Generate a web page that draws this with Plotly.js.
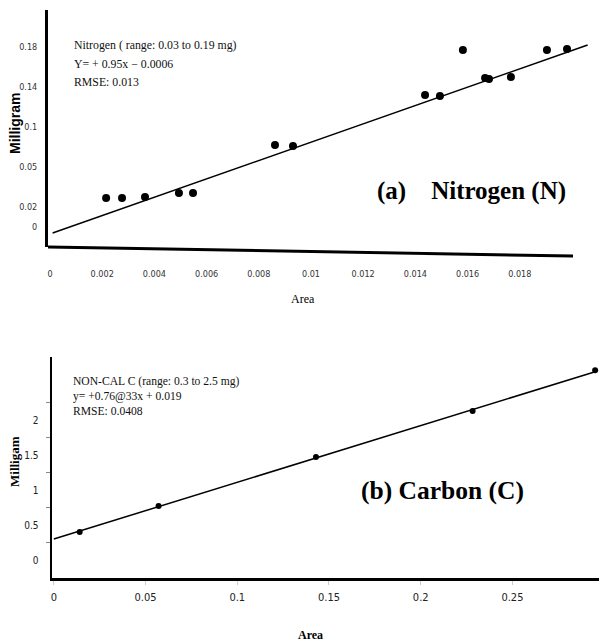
<!DOCTYPE html>
<html><head><meta charset="utf-8">
<script src="https://cdn.plot.ly/plotly-3.0.1.min.js"></script>
<style>html,body{margin:0;padding:0;background:#fff}</style>
</head><body><div id="chart" style="width:599px;height:641px"></div>
<script>
// ---- (a) Nitrogen ----
const nArea = [0.00215, 0.00276, 0.00364, 0.00494, 0.00548, 0.00862, 0.00931, 0.01437, 0.01494, 0.01582, 0.01667, 0.01682, 0.01766, 0.01904, 0.01981];
const nMg   = [0.029, 0.029, 0.030, 0.034, 0.034, 0.082, 0.081, 0.132, 0.131, 0.177, 0.149, 0.148, 0.150, 0.177, 0.178];
const nFitArea = [0.0001, 0.0206];
const nFitMg   = [-0.006, 0.182];
const nXTickVals = [0, 0.002, 0.004, 0.006, 0.008, 0.01, 0.012, 0.014, 0.016, 0.018];
const nXTickText = ['0', '0.002', '0.004', '0.006', '0.008', '0.01', '0.012', '0.014', '0.016', '0.018'];
const nYTickVals = [0, 0.02, 0.06, 0.1, 0.14, 0.18];
const nYTickText = ['0', '0.02', '0.05', '0.1', '0.14', '0.18'];
const nText = ['Nitrogen ( range: 0.03 to 0.19 mg)', 'Y= + 0.95x \u2212 0.0006', 'RMSE: 0.013'];
const nLabel = '(a)\u00a0\u00a0\u00a0\u00a0Nitrogen (N)';

// ---- (b) Carbon ----
const cArea = [0.0141, 0.0571, 0.1429, 0.2283, 0.2951];
const cMg   = [0.40, 0.77, 1.47, 2.13, 2.71];
const cFitArea = [0, 0.2951];
const cFitMg   = [0.30, 2.69];
const cXTickVals = [0, 0.05, 0.1, 0.15, 0.2, 0.25];
const cXTickText = ['0', '0.05', '0.1', '0.15', '0.2', '0.25'];
const cYTickVals = [0, 0.5, 1, 1.5, 2];
const cYTickText = ['0', '0.5', '1', '1.5', '2'];
const cYMinor = [0.25, 0.75, 1.25, 1.75, 2.25];
const cText = ['NON-CAL C (range: 0.3 to 2.5 mg)', 'y= +0.76@33x + 0.019', 'RMSE: 0.0408'];
const cLabel = '(b) Carbon (C)';

const W = 599, H = 641;
const px = x => x / W;
const py = y => 1 - y / H;

const serif = 'Liberation Serif, Times New Roman, serif';
const narrow = 'DejaVu Sans Condensed, DejaVu Sans, sans-serif';

const traces = [
  {x: nFitArea, y: nFitMg, mode: 'lines', line: {color: '#000', width: 1.5}, xaxis: 'x', yaxis: 'y', hoverinfo: 'skip'},
  {x: nArea, y: nMg, mode: 'markers', marker: {color: '#000', size: 8}, xaxis: 'x', yaxis: 'y'},
  {x: cFitArea, y: cFitMg, mode: 'lines', line: {color: '#000', width: 1.5}, xaxis: 'x2', yaxis: 'y2', hoverinfo: 'skip'},
  {x: cArea, y: cMg, mode: 'markers', marker: {color: '#000', size: 6}, xaxis: 'x2', yaxis: 'y2', cliponaxis: false}
];

const annotations = [];
nText.forEach((t, i) => annotations.push({
  text: t, xref: 'paper', yref: 'paper', x: px(72), y: py(45 + i * 18.5),
  xanchor: 'left', yanchor: 'middle', showarrow: false,
  font: {family: serif, size: 11.8, color: '#111'}
}));
cText.forEach((t, i) => annotations.push({
  text: t, xref: 'paper', yref: 'paper', x: px(71), y: py(381 + i * 15),
  xanchor: 'left', yanchor: 'middle', showarrow: false,
  font: {family: serif, size: 11.6, color: '#111'}
}));
annotations.push({text: nLabel, xref: 'paper', yref: 'paper', x: px(471), y: py(191),
  xanchor: 'center', yanchor: 'middle', showarrow: false,
  font: {family: serif, size: 25, color: '#000', weight: 'bold'}});
annotations.push({text: cLabel, xref: 'paper', yref: 'paper', x: px(442), y: py(490),
  xanchor: 'center', yanchor: 'middle', showarrow: false,
  font: {family: serif, size: 25.5, color: '#000', weight: 'bold'}});
annotations.push({text: 'Milligram', xref: 'paper', yref: 'paper', x: px(15), y: py(124),
  textangle: -90, xanchor: 'center', yanchor: 'middle', showarrow: false,
  font: {family: 'Liberation Sans, Arial, sans-serif', size: 14, color: '#000', weight: 'bold'}});
annotations.push({text: 'Milligam', xref: 'paper', yref: 'paper', x: px(14), y: py(462),
  textangle: -90, xanchor: 'center', yanchor: 'middle', showarrow: false,
  font: {family: serif, size: 13, color: '#000', weight: 'bold'}});
annotations.push({text: 'Area', xref: 'paper', yref: 'paper', x: px(303), y: py(299),
  xanchor: 'center', yanchor: 'middle', showarrow: false,
  font: {family: serif, size: 12, color: '#000'}});
annotations.push({text: 'Area', xref: 'paper', yref: 'paper', x: px(310), y: py(635),
  xanchor: 'center', yanchor: 'middle', showarrow: false,
  font: {family: serif, size: 12, color: '#000', weight: 'bold'}});

const layout = {
  width: W, height: H,
  margin: {l: 0, r: 0, t: 0, b: 0},
  paper_bgcolor: '#fff', plot_bgcolor: '#fff',
  showlegend: false,
  xaxis: {
    domain: [px(48), px(590)], range: [-0.0000766, 0.02069], anchor: 'y',
    showline: false, showgrid: false, zeroline: false, ticks: '',
    tickmode: 'array', tickvals: nXTickVals, ticktext: nXTickText,
    tickfont: {family: narrow, size: 9, color: '#333'}, ticklabelstandoff: 20
  },
  yaxis: {
    domain: [py(247), py(10)], range: [-0.020, 0.217], anchor: 'x',
    showline: true, linewidth: 3, linecolor: '#000', showgrid: false, zeroline: false, ticks: '',
    tickmode: 'array', tickvals: nYTickVals, ticktext: nYTickText,
    tickfont: {family: narrow, size: 9, color: '#333'}, ticklabelstandoff: 6
  },
  xaxis2: {
    domain: [px(52), 1], range: [-0.001, 0.2972], anchor: 'y2',
    showline: true, linewidth: 2.5, linecolor: '#000', showgrid: false, zeroline: false,
    ticks: 'outside', ticklen: 4, tickcolor: '#ccc', tickwidth: 1,
    tickmode: 'array', tickvals: cXTickVals, ticktext: cXTickText,
    tickfont: {family: narrow, size: 11, color: '#222'}, ticklabelstandoff: 3
  },
  yaxis2: {
    domain: [py(578), py(357)], range: [-0.257, 2.9], anchor: 'x2',
    showline: true, linewidth: 2.5, linecolor: '#000', showgrid: false, zeroline: false, ticks: '',
    tickmode: 'array', tickvals: cYTickVals, ticktext: cYTickText,
    tickfont: {family: narrow, size: 10, color: '#222'}, ticklabelstandoff: 9,
    minor: {tickmode: 'array', tickvals: cYMinor, ticks: 'outside', ticklen: 4, tickcolor: '#888', tickwidth: 1}
  },
  shapes: [
    {type: 'line', xref: 'x', yref: 'paper', x0: -0.0000766, x1: 0.02004, y0: py(247), y1: py(256),
     line: {color: '#000', width: 3}}
  ],
  annotations: annotations
};

Plotly.newPlot('chart', traces, layout, {displayModeBar: false, staticPlot: true});
</script></body></html>
